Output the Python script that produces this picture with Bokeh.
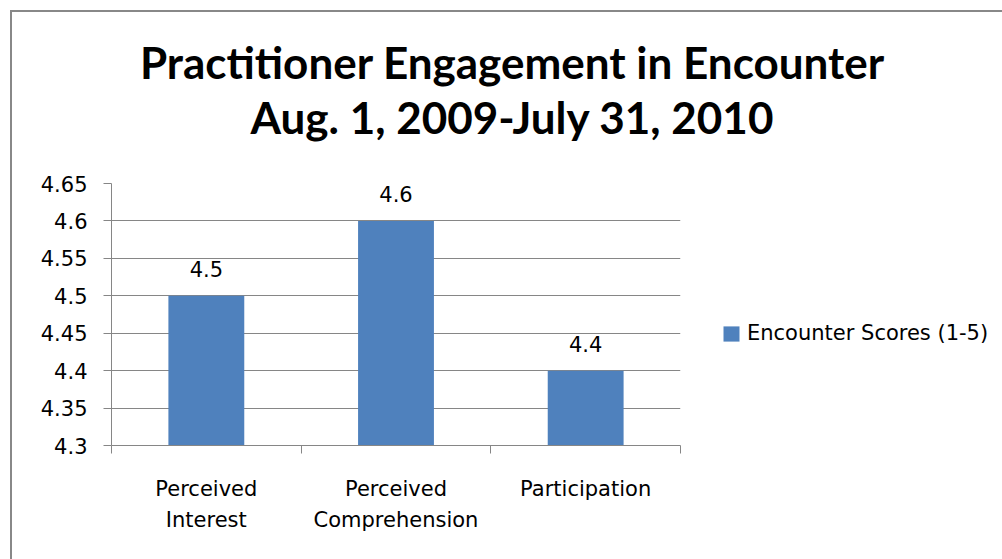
from bokeh.plotting import figure
from bokeh.models import Range1d, FixedTicker, Legend, LegendItem, Label, ColumnDataSource
from bokeh.embed import file_html
from bokeh.resources import INLINE
from bokeh.core.properties import value

# ---- data ----
categories = ["Perceived\nInterest", "Perceived\nComprehension", "Participation"]
scores = [4.5, 4.6, 4.4]
value_labels = ["4.5", "4.6", "4.4"]
series_name = "Encounter Scores (1-5)"
y_ticks = [4.3, 4.35, 4.4, 4.45, 4.5, 4.55, 4.6, 4.65]
y_tick_labels = ["4.3", "4.35", "4.4", "4.45", "4.5", "4.55", "4.6", "4.65"]
title_lines = ["Practitioner Engagement in Encounter", "Aug. 1, 2009-July 31, 2010"]

# ---- layout constants ----
W, H = 990, 547
FL, FT, FW, FH = 99, 171, 569, 262
ORIGIN = 12  # page offset of the canvas
GRAY = "#868686"
BAR = "#4F81BD"
SMALL_FONT = "DejaVu Sans"
SMALL_SIZE = "21px"

n = len(categories)
xs = [i + 0.5 for i in range(n)]
y0, y1 = y_ticks[0], y_ticks[-1]

def data_x(page_px):
    return (page_px - ORIGIN - FL) / FW * n

def data_y(page_py):
    return y0 + (ORIGIN + FT + FH - page_py) / FH * (y1 - y0)

src = ColumnDataSource(dict(x=xs, top=scores, label=value_labels))

p = figure(frame_width=FW, frame_height=FH, x_range=Range1d(0, n), y_range=Range1d(y0, y1),
           output_backend="svg", toolbar_location=None,
           min_border_left=FL, min_border_top=FT,
           min_border_right=W - FL - FW, min_border_bottom=H - FT - FH)
p.styles = {"margin-left": "10px", "margin-top": "10px",
            "border-left": "2px solid #888888", "border-top": "2px solid #888888"}
p.outline_line_color = None
p.background_fill_color = "white"
p.border_fill_color = "white"

bars = p.vbar(x="x", top="top", bottom=y0, width=0.4, source=src,
              fill_color=BAR, line_color=None)

p.text(x="x", y="top", text="label", source=src, text_align="center",
       text_baseline="alphabetic", y_offset=-27,
       text_font=value(SMALL_FONT), text_font_size=SMALL_SIZE, text_color="black")

# y axis
p.yaxis.ticker = FixedTicker(ticks=y_ticks)
p.yaxis.major_label_overrides = dict(zip(y_ticks, y_tick_labels))
p.yaxis.major_tick_in = 0
p.yaxis.major_tick_out = 8
p.yaxis.minor_tick_line_color = None
p.yaxis.major_tick_line_color = GRAY
p.yaxis.axis_line_color = GRAY
p.yaxis.major_label_standoff = 16
p.yaxis.major_label_text_font = SMALL_FONT
p.yaxis.major_label_text_font_size = SMALL_SIZE
p.yaxis.major_label_text_color = "black"

# x axis
p.xaxis.ticker = FixedTicker(ticks=xs, minor_ticks=list(range(n + 1)))
p.xaxis.major_label_overrides = dict(zip(xs, categories))
p.xaxis.major_tick_in = 0
p.xaxis.major_tick_out = 0
p.xaxis.major_tick_line_color = None
p.xaxis.minor_tick_in = 0
p.xaxis.minor_tick_out = 8
p.xaxis.minor_tick_line_color = GRAY
p.xaxis.axis_line_color = GRAY
p.xaxis.major_label_standoff = 23
p.xaxis.major_label_text_font = SMALL_FONT
p.xaxis.major_label_text_font_size = SMALL_SIZE
p.xaxis.major_label_text_color = "black"
p.xaxis.major_label_text_line_height = 1.3

p.xgrid.visible = False
p.ygrid.grid_line_color = GRAY

# title (placed in the top panel so it is not clipped to the frame)
for text, base in zip(title_lines, [61, 116]):
    p.add_layout(Label(x=data_x(512), y=data_y(base), text=text,
                       text_align="center", text_baseline="alphabetic",
                       text_font="Lato", text_font_style="bold",
                       text_font_size="44px", text_color="black"), "above")

legend = Legend(items=[LegendItem(label=series_name, renderers=[bars])],
                location=(41, 100), padding=0, margin=0, spacing=0,
                glyph_width=20, glyph_height=19, label_standoff=6,
                label_text_font=SMALL_FONT, label_text_font_size=SMALL_SIZE,
                label_text_color="black",
                border_line_color=None, background_fill_alpha=0)
p.add_layout(legend, "right")

open("out.html", "w").write(file_html(p, INLINE))
